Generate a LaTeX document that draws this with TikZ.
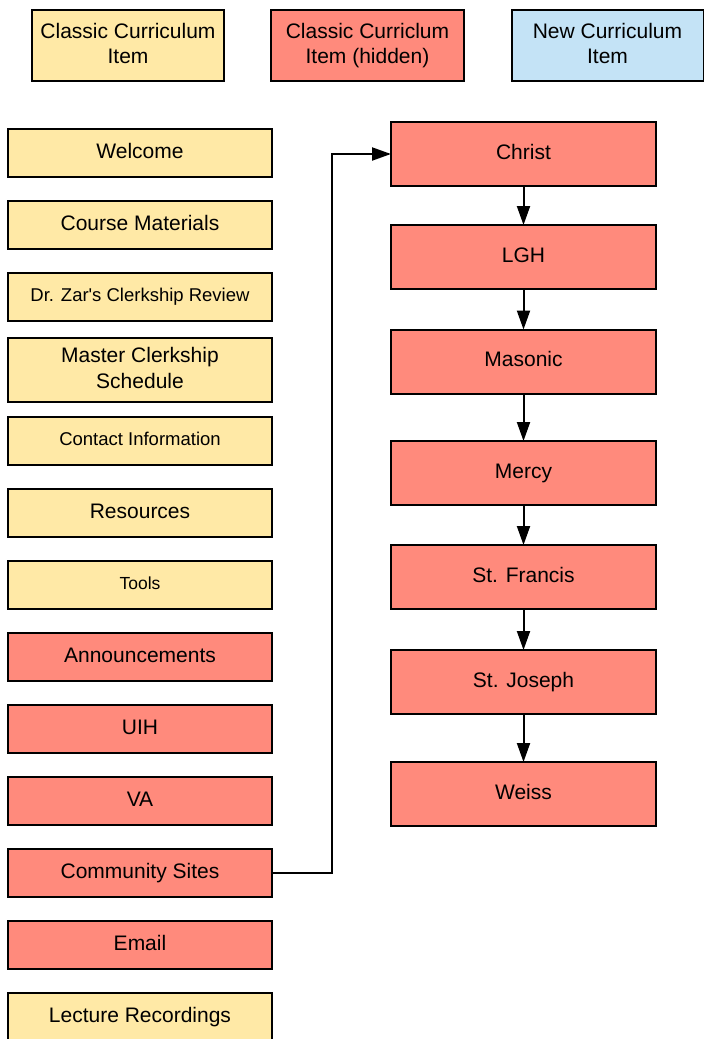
\documentclass[tikz,border=0pt]{standalone}
\usepackage{fontspec}
\setmainfont{Liberation Sans}[Ligatures=TeXOff]
\usetikzlibrary{arrows.meta}
\definecolor{cyellow}{HTML}{FFE9A6}
\definecolor{cred}{HTML}{FF8A7C}
\definecolor{cblue}{HTML}{C4E3F6}
\tikzset{
  box/.style={draw=black, line width=2pt, inner sep=0pt, outer sep=0pt, align=center,
    font=\fontsize{21}{25.5}\selectfont, text depth=4.4pt},
  ybox/.style={box, fill=cyellow},
  rbox/.style={box, fill=cred},
  bbox/.style={box, fill=cblue},
  lcol/.style={minimum width=264pt, minimum height=48pt},
  rcol/.style={minimum width=265pt, minimum height=64pt},
  smalltxt/.style={font=\fontsize{18.5}{22}\selectfont, text depth=3.9pt},
  tinytxt/.style={font=\fontsize{17.5}{21}\selectfont, text depth=3.7pt},
  conn/.style={draw=black, line width=2pt, -{Triangle[length=19pt,width=13pt]}},
}
\begin{document}
\begin{tikzpicture}[x=1pt,y=1pt]
\useasboundingbox (0,0) rectangle (704,-1039);
% legend
\node[ybox, minimum width=192pt, minimum height=71pt] (leg1) at (128,-45.5) {Classic Curriculum\\Item};
\node[rbox, minimum width=193pt, minimum height=71pt] (leg2) at (367.5,-45.5) {Classic Curriclum\\Item (hidden)};
\node[bbox, minimum width=192pt, minimum height=71pt] (leg3) at (607.5,-45.5) {New Curriculum\\Item};
% left column
\node[ybox, lcol] (welcome) at (140,-153) {Welcome};
\node[ybox, lcol] (course) at (140,-225) {Course Materials};
\node[ybox, lcol, smalltxt] (zar) at (140,-297) {Dr. Zar's Clerkship Review};
\node[ybox, lcol, minimum height=64pt] (master) at (140,-370) {Master Clerkship\\Schedule};
\node[ybox, lcol, smalltxt] (contact) at (140,-441) {Contact Information};
\node[ybox, lcol] (resources) at (140,-513) {Resources};
\node[ybox, lcol, tinytxt] (tools) at (140,-585) {Tools};
\node[rbox, lcol] (announce) at (140,-657) {Announcements};
\node[rbox, lcol] (uih) at (140,-729) {UIH};
\node[rbox, lcol] (va) at (140,-801) {VA};
\node[rbox, lcol] (community) at (140,-873) {Community Sites};
\node[rbox, lcol] (email) at (140,-945) {Email};
\node[ybox, lcol] (lecture) at (140,-1017) {Lecture Recordings};
% right column
\node[rbox, rcol] (christ) at (523.5,-154) {Christ};
\node[rbox, rcol] (lgh) at (523.5,-257) {LGH};
\node[rbox, rcol] (masonic) at (523.5,-361.5) {Masonic};
\node[rbox, rcol] (mercy) at (523.5,-473) {Mercy};
\node[rbox, rcol] (francis) at (523.5,-577) {St. Francis};
\node[rbox, rcol] (joseph) at (523.5,-682) {St. Joseph};
\node[rbox, rcol] (weiss) at (523.5,-794) {Weiss};
% connectors
\draw[conn] (community.east) -- ++(60,0) |- (christ.west);
\draw[conn] (christ) -- (lgh);
\draw[conn] (lgh) -- (masonic);
\draw[conn] (masonic) -- (mercy);
\draw[conn] (mercy) -- (francis);
\draw[conn] (francis) -- (joseph);
\draw[conn] (joseph) -- (weiss);
\end{tikzpicture}
\end{document}
